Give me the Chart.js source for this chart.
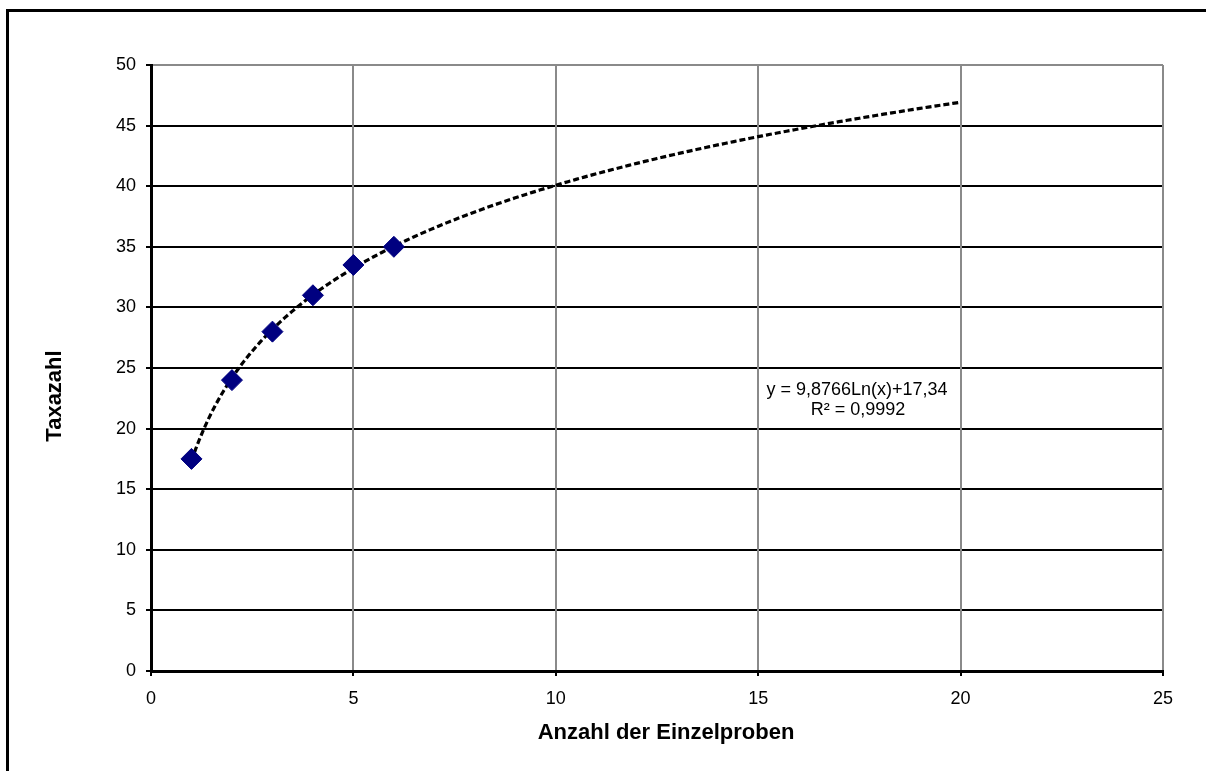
<!DOCTYPE html>
<html>
<head>
<meta charset="utf-8">
<title>Taxazahl</title>
<script src="https://cdn.jsdelivr.net/npm/chart.js@4/dist/chart.umd.min.js"></script>
<style>
  html, body { margin: 0; padding: 0; background: #ffffff; }
  #wrap { width: 1206px; height: 771px; position: relative; }
</style>
</head>
<body>
<div id="wrap"><canvas id="chart" width="1206" height="771"></canvas></div>
<script>
// Observed samples: number of single samples vs. number of taxa
const sampleCounts = [1, 2, 3, 4, 5, 6];
const taxaCounts = [17.5, 24, 28, 31, 33.5, 35];

// Axis tick values
const xTickValues = [0, 5, 10, 15, 20, 25];
const yTickValues = [0, 5, 10, 15, 20, 25, 30, 35, 40, 45, 50];

// Logarithmic trend line y = a*ln(x) + b, as given in the equation label
const trendSlope = 9.8766;
const trendIntercept = 17.34;
const trendStart = 1;
const trendEnd = 20;

// Text
const equationLines = ['y = 9,8766Ln(x)+17,34', 'R\u00B2 = 0,9992'];
const xAxisTitle = 'Anzahl der Einzelproben';
const yAxisTitle = 'Taxazahl';

const FONT = '"Liberation Sans", Arial, Helvetica, sans-serif';
const GRID_GRAY = '#8a8a8a';

const trendPoints = [];
for (let i = 0; i <= (trendEnd - trendStart) * 10; i++) {
  const x = trendStart + i / 10;
  trendPoints.push({ x: x, y: trendSlope * Math.log(x) + trendIntercept });
}
const samplePoints = sampleCounts.map((x, i) => ({ x: x, y: taxaCounts[i] }));

// Outer frame, axis titles and trend equation
const decorations = {
  id: 'decorations',
  beforeDraw(chart) {
    const ctx = chart.ctx;
    ctx.save();
    ctx.fillStyle = '#ffffff';
    ctx.fillRect(0, 0, chart.width, chart.height);
    ctx.strokeStyle = '#000000';
    ctx.lineWidth = 3;
    ctx.strokeRect(7.5, 10.5, chart.width + 100, chart.height + 100);
    ctx.restore();
  },
  afterDraw(chart) {
    const ctx = chart.ctx;
    ctx.save();
    ctx.fillStyle = '#000000';
    ctx.textAlign = 'center';
    ctx.textBaseline = 'middle';

    ctx.font = 'bold 22px ' + FONT;
    ctx.fillText(xAxisTitle, 666, 733);

    ctx.save();
    ctx.translate(55, 396);
    ctx.rotate(-Math.PI / 2);
    ctx.fillText(yAxisTitle, 0, 0);
    ctx.restore();

    ctx.font = '18px ' + FONT;
    ctx.fillText(equationLines[0], 857, 390);
    ctx.fillText(equationLines[1], 858, 410);
    ctx.restore();
  }
};

new Chart(document.getElementById('chart'), {
  type: 'scatter',
  data: {
    datasets: [
      {
        label: 'Taxazahl',
        data: samplePoints,
        pointStyle: 'rectRot',
        pointRadius: 10.5,
        pointHoverRadius: 10.5,
        backgroundColor: '#000080',
        borderColor: '#000080',
        borderWidth: 1,
        order: 0
      },
      {
        label: 'Trend',
        data: trendPoints,
        showLine: true,
        borderColor: '#000000',
        borderWidth: 3.2,
        borderDash: [6, 3],
        pointRadius: 0,
        pointHoverRadius: 0,
        tension: 0,
        fill: false,
        order: 1
      }
    ]
  },
  options: {
    responsive: false,
    animation: false,
    devicePixelRatio: 1,
    layout: { padding: { left: 0, top: 65, right: 43, bottom: 0 } },
    plugins: {
      legend: { display: false },
      tooltip: { enabled: false }
    },
    scales: {
      y: {
        type: 'linear',
        min: 0,
        max: 50,
        afterBuildTicks(scale) { scale.ticks = yTickValues.map(v => ({ value: v })); },
        afterFit(scale) { scale.width = 151; },
        ticks: {
          color: '#000000',
          font: { family: FONT, size: 18 },
          padding: 10
        },
        grid: {
          color: c => (c.tick && c.tick.value === 50 ? GRID_GRAY : '#000000'),
          lineWidth: 2,
          tickColor: '#000000',
          tickLength: 5,
          tickWidth: 2
        },
        border: { color: '#000000', width: 3 }
      },
      x: {
        type: 'linear',
        min: 0,
        max: 25,
        afterBuildTicks(scale) { scale.ticks = xTickValues.map(v => ({ value: v })); },
        afterFit(scale) { scale.height = 100; },
        ticks: {
          color: '#000000',
          font: { family: FONT, size: 18 },
          padding: 12,
          maxRotation: 0
        },
        grid: {
          color: GRID_GRAY,
          lineWidth: 2,
          tickColor: '#000000',
          tickLength: 5,
          tickWidth: 2
        },
        border: { color: '#000000', width: 3 }
      }
    }
  },
  plugins: [decorations]
});
</script>
</body>
</html>
